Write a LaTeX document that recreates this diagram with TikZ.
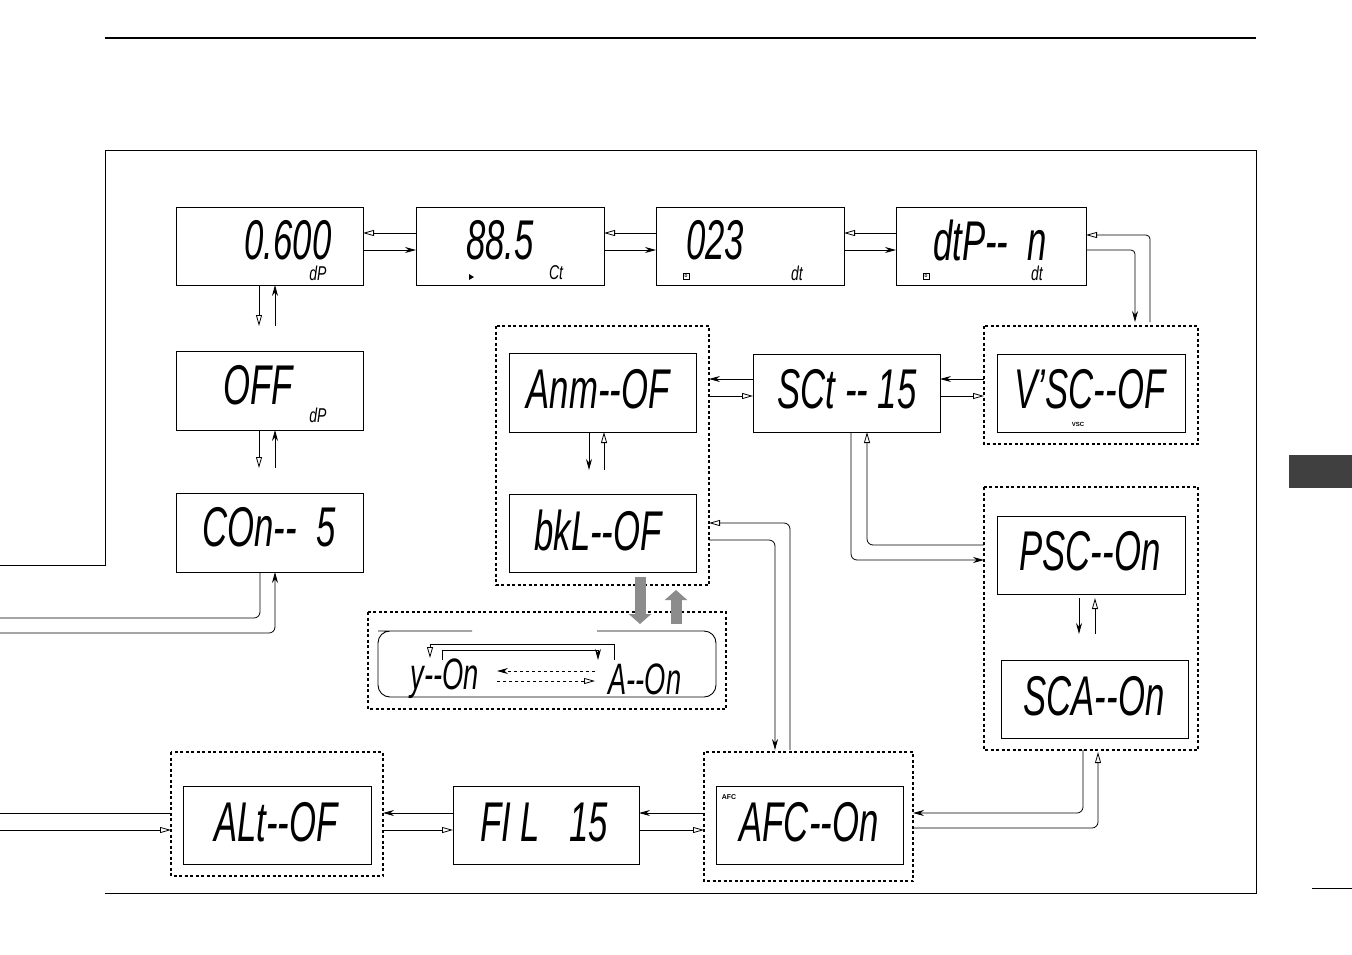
\documentclass[tikz,border=0pt]{standalone}
\usepackage{fontspec}
\setmainfont{Liberation Sans}
\usetikzlibrary{arrows.meta}
\newcommand\lcdtxt[1]{\scalebox{0.62}[1]{\fontsize{56}{56}\selectfont\itshape #1}}
\newcommand\lcdsm[1]{\scalebox{0.62}[1]{\fontsize{44}{44}\selectfont\itshape #1}}
\newcommand\lcdtiny[1]{\scalebox{0.7}[1]{\fontsize{20}{20}\selectfont\itshape #1}}
\newcommand\dd{-{}-}
\begin{document}
\begin{tikzpicture}[x=1pt,y=-1pt,
 box/.style={draw,line width=0.9pt},
 grp/.style={draw,line width=1.2pt,dash pattern=on 3pt off 2.5pt},
 fa/.style={-{Stealth[length=11pt,width=6pt]},line width=0.8pt},
 oa/.style={-{Triangle[open,length=11pt,width=6pt]},line width=0.8pt},
 ln/.style={line width=0.8pt},
 lbl/.style={inner sep=0pt}]
\useasboundingbox (0,0) rectangle (1352,954);
\fill[white] (0,0) rectangle (1352,954);
% page decorations
\draw[line width=2pt] (105,38) -- (1256,38);
\fill[black!75] (1289,455) rectangle (1352,488);
\draw[ln] (1312,888) -- (1352,888);
\draw[line width=0.9pt] (0,565) -- (105,565) -- (105,150) -- (1256,150) -- (1256,893) -- (105,893);
% groups
\draw[grp] (496,326) rectangle (709,585);
\draw[grp] (984,326) rectangle (1198,444);
\draw[grp] (984,487) rectangle (1198,750);
\draw[grp] (368,612) rectangle (726,709);
\draw[grp] (171,752) rectangle (383,876);
\draw[grp] (704,752) rectangle (913,881);
% boxes
\node[box,minimum width=187pt,minimum height=78pt,anchor=north west] (b1) at (176,207) {};
\node[box,minimum width=188pt,minimum height=78pt,anchor=north west] (b2) at (416,207) {};
\node[box,minimum width=188pt,minimum height=78pt,anchor=north west] (b3) at (656,207) {};
\node[box,minimum width=190pt,minimum height=78pt,anchor=north west] (b4) at (896,207) {};
\node[box,minimum width=187pt,minimum height=79pt,anchor=north west] (b5) at (176,351) {};
\node[box,minimum width=187pt,minimum height=79pt,anchor=north west] (b6) at (176,493) {};
\node[box,minimum width=187pt,minimum height=79pt,anchor=north west] (anm) at (509,353) {};
\node[box,minimum width=187pt,minimum height=78pt,anchor=north west] (bkl) at (509,494) {};
\node[box,minimum width=187pt,minimum height=78pt,anchor=north west] (sct) at (753,354) {};
\node[box,minimum width=188pt,minimum height=78pt,anchor=north west] (vsc) at (997,354) {};
\node[box,minimum width=188pt,minimum height=78pt,anchor=north west] (psc) at (997,516) {};
\node[box,minimum width=187pt,minimum height=78pt,anchor=north west] (sca) at (1001,660) {};
\node[box,minimum width=188pt,minimum height=78pt,anchor=north west] (alt) at (183,786) {};
\node[box,minimum width=186pt,minimum height=78pt,anchor=north west] (fil) at (453,786) {};
\node[box,minimum width=187pt,minimum height=78pt,anchor=north west] (afc) at (716,786) {};
% main texts
\node[lbl] (t1) at (288,240) {\lcdtxt{0.600}};
\node[lbl] (t2) at (500,240) {\lcdtxt{88.5}};
\node[lbl] (t3) at (715,240) {\lcdtxt{023}};
\node[lbl] (t4) at (990,240) {\lcdtxt{dtP\dd\ \ n}};
\node[lbl] (t5) at (258,385) {\lcdtxt{OFF}};
\node[lbl] (t6) at (269,527) {\lcdtxt{COn\dd\ \ 5}};
\node[lbl] (t7) at (598,389) {\lcdtxt{Anm\dd OF}};
\node[lbl] (t8) at (598,530) {\lcdtxt{bkL\dd OF}};
\node[lbl] (t9) at (847,389) {\lcdtxt{SCt \dd\ 15}};
\node[lbl] (t10) at (1090,389) {\lcdtxt{V'SC\dd OF}};
\node[lbl] (t11) at (1090,551) {\lcdtxt{PSC\dd On}};
\node[lbl] (t12) at (1094,696) {\lcdtxt{SCA\dd On}};
\node[lbl] (t13) at (276,822) {\lcdtxt{ALt\dd OF}};
\node[lbl] (t14) at (544,822) {\lcdtxt{FI L \ \ 15}};
\node[lbl] (t15) at (809,822) {\lcdtxt{AFC\dd On}};
% small labels
\node[lbl] (s1) at (318,273) {\lcdtiny{dP}};
\node[lbl] (s2) at (556,273) {\lcdtiny{Ct}};
\node[lbl] (s3) at (797,273) {\lcdtiny{dt}};
\node[lbl] (s4) at (1037,273) {\lcdtiny{dt}};
\node[lbl] (s5) at (318,415) {\lcdtiny{dP}};
\fill (469,274) -- (474,277) -- (469,280) -- cycle;
\node[draw,line width=0.5pt,minimum size=6pt,inner sep=0pt,font=\fontsize{4}{4}\selectfont\bfseries] (d1) at (686,276) {D};
\node[draw,line width=0.5pt,minimum size=6pt,inner sep=0pt,font=\fontsize{4}{4}\selectfont\bfseries] (d2) at (926,276) {D};
\node[lbl,font=\fontsize{6}{6}\selectfont\bfseries] (vl) at (1078,424) {VSC};
\node[lbl,font=\fontsize{7}{7}\selectfont\bfseries] (al) at (729,797) {AFC};
% Y/A panel
\draw[line width=0.9pt,rounded corners=12pt] (472,631) -- (390,631) -- (378,631) -- (378,697) -- (716,697) -- (716,631) -- (597,631);
\node[lbl] (ya) at (445,679) {\lcdsm{y\dd On}};
\node[lbl] (aa) at (645,679) {\lcdsm{A\dd On}};
\draw[oa] (614,660) -- (614,644) -- (430,644) -- (430,658);
\draw[fa] (442,660) -- (442,650) -- (598,650) -- (598,660);
\draw[fa,dashed] (595,671) -- (497,671);
\draw[oa,dashed] (497,681) -- (595,681);
% gray arrows
\draw[-{Triangle[length=10pt,width=22pt]},line width=11pt,black!45] (640,577) -- (640,624);
\draw[-{Triangle[length=10pt,width=22pt]},line width=11pt,black!45] (676,624) -- (676,590);
% top row arrows
\draw[oa] (416,233) -- (363,233);
\draw[fa] (363,250) -- (416,250);
\draw[oa] (656,233) -- (604,233);
\draw[fa] (604,250) -- (656,250);
\draw[oa] (896,233) -- (844,233);
\draw[fa] (844,250) -- (896,250);
\draw[fa,rounded corners=4pt] (1086,250) -- (1135,250) -- (1135,322);
\draw[oa,rounded corners=4pt] (1150,322) -- (1150,235) -- (1086,235);
% left column
\draw[oa] (259,285) -- (259,326);
\draw[fa] (275,326) -- (275,285);
\draw[oa] (259,430) -- (259,468);
\draw[fa] (275,468) -- (275,430);
\draw[ln,rounded corners=6pt] (0,618) -- (260,618) -- (260,572);
\draw[fa,rounded corners=6pt] (0,633) -- (275,633) -- (275,572);
% middle
\draw[fa] (753,379) -- (709,379);
\draw[oa] (709,396) -- (753,396);
\draw[fa] (984,379) -- (940,379);
\draw[oa] (940,396) -- (984,396);
\draw[fa] (589,432) -- (589,470);
\draw[oa] (604,470) -- (604,432);
\draw[oa,rounded corners=6pt] (790,750) -- (790,523) -- (709,523);
\draw[fa,rounded corners=6pt] (709,540) -- (775,540) -- (775,750);
\draw[fa,rounded corners=6pt] (851,432) -- (851,560) -- (984,560);
\draw[oa,rounded corners=6pt] (984,545) -- (867,545) -- (867,432);
\draw[fa] (1079,598) -- (1079,634);
\draw[oa] (1095,634) -- (1095,598);
\draw[fa,rounded corners=6pt] (1083,750) -- (1083,813) -- (913,813);
\draw[oa,rounded corners=6pt] (913,828) -- (1098,828) -- (1098,752);
% bottom row
\draw[fa] (704,813) -- (639,813);
\draw[oa] (639,830) -- (704,830);
\draw[fa] (453,813) -- (383,813);
\draw[oa] (383,830) -- (453,830);
\draw[ln] (0,813) -- (171,813);
\draw[oa] (0,830) -- (171,830);
\end{tikzpicture}
\end{document}
